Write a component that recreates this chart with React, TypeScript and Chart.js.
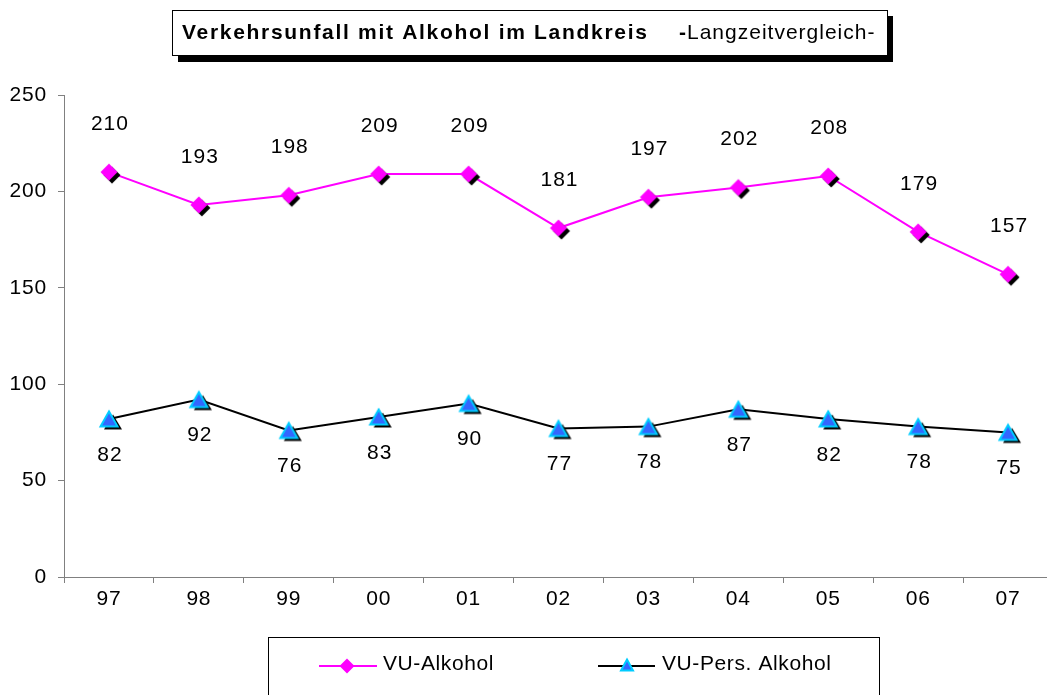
import React, { useEffect, useRef } from "react";
import { Chart, registerables } from "chart.js";

Chart.register(...registerables);

const YEARS = ["97", "98", "99", "00", "01", "02", "03", "04", "05", "06", "07"];
const VU_ALKOHOL = [210, 193, 198, 209, 209, 181, 197, 202, 208, 179, 157];
const VU_PERS_ALKOHOL = [82, 92, 76, 83, 90, 77, 78, 87, 82, 78, 75];
const Y_TICKS = [0, 50, 100, 150, 200, 250];
const TITLE_BOLD = "Verkehrsunfall mit Alkohol im Landkreis";
const TITLE_NORMAL = "-Langzeitvergleich-";
const SERIES_NAMES = ["VU-Alkohol", "VU-Pers. Alkohol"];

const FONT = '"Liberation Sans", Arial, sans-serif';
const PINK = "#FF00FF";
const BLUE = "#3366FF";
const CYAN = "#00CCFF";
const AXIS = "#808080";

function diamondPath(ctx: CanvasRenderingContext2D, cx: number, cy: number, r: number) {
  ctx.beginPath();
  ctx.moveTo(cx, cy - r);
  ctx.lineTo(cx + r, cy);
  ctx.lineTo(cx, cy + r);
  ctx.lineTo(cx - r, cy);
  ctx.closePath();
}

function trianglePath(ctx: CanvasRenderingContext2D, cx: number, cy: number, w: number, h: number) {
  ctx.beginPath();
  ctx.moveTo(cx, cy - h / 2);
  ctx.lineTo(cx + w / 2, cy + h / 2);
  ctx.lineTo(cx - w / 2, cy + h / 2);
  ctx.closePath();
}

function drawDiamond(ctx: CanvasRenderingContext2D, cx: number, cy: number, r: number) {
  diamondPath(ctx, cx, cy, r);
  ctx.fillStyle = PINK;
  ctx.fill();
}

function drawTriangle(ctx: CanvasRenderingContext2D, cx: number, cy: number, w: number, h: number) {
  trianglePath(ctx, cx, cy, w, h);
  ctx.fillStyle = BLUE;
  ctx.fill();
  ctx.lineWidth = 2;
  ctx.lineJoin = "miter";
  ctx.strokeStyle = CYAN;
  ctx.stroke();
}

function makeDiamondImage() {
  const c = document.createElement("canvas");
  c.width = 30;
  c.height = 30;
  const ctx = c.getContext("2d")!;
  diamondPath(ctx, 18, 18, 8.5);
  ctx.fillStyle = "#000";
  ctx.fill();
  drawDiamond(ctx, 15, 15, 8.5);
  return c;
}

function makeTriangleImage() {
  const c = document.createElement("canvas");
  c.width = 32;
  c.height = 32;
  const ctx = c.getContext("2d")!;
  trianglePath(ctx, 20, 19, 18, 15);
  ctx.fillStyle = "#000";
  ctx.fill();
  drawTriangle(ctx, 16, 16, 17, 15);
  return c;
}

const decorPlugin = {
  id: "decor",
  beforeDraw(chart: any) {
    chart.ctx.letterSpacing = "0.8px";
  },
  afterDatasetsDraw(chart: any) {
    const ctx: CanvasRenderingContext2D = chart.ctx;
    ctx.save();
    ctx.letterSpacing = "1px";
    ctx.font = `21px ${FONT}`;
    ctx.fillStyle = "#000";
    ctx.textAlign = "center";
    ctx.textBaseline = "middle";
    const offsets = [-48, 36];
    chart.data.datasets.forEach((ds: any, di: number) => {
      const meta = chart.getDatasetMeta(di);
      meta.data.forEach((pt: any, i: number) => {
        ctx.fillText(String(ds.data[i]), pt.x + 1, pt.y + offsets[di]);
      });
    });
    ctx.restore();
  },
  afterDraw(chart: any) {
    const ctx: CanvasRenderingContext2D = chart.ctx;
    ctx.save();
    ctx.letterSpacing = "0px";
    // Title box with shadow
    ctx.fillStyle = "#000";
    ctx.fillRect(178, 16, 715, 46);
    ctx.fillStyle = "#fff";
    ctx.fillRect(172, 10, 715, 45);
    ctx.strokeStyle = "#000";
    ctx.lineWidth = 1;
    ctx.strokeRect(172.5, 10.5, 715, 45);
    ctx.fillStyle = "#000";
    ctx.textAlign = "left";
    ctx.textBaseline = "alphabetic";
    ctx.letterSpacing = "1.7px";
    ctx.font = `bold 21px ${FONT}`;
    ctx.fillText(TITLE_BOLD, 182, 39);
    ctx.letterSpacing = "1px";
    ctx.font = `bold 21px ${FONT}`;
    ctx.fillText("-", 679, 39);
    ctx.font = `21px ${FONT}`;
    ctx.fillText(TITLE_NORMAL.slice(1), 687, 39);

    // Legend box
    ctx.letterSpacing = "0px";
    ctx.fillStyle = "#fff";
    ctx.fillRect(268, 637, 611, 70);
    ctx.strokeStyle = "#000";
    ctx.lineWidth = 1;
    ctx.strokeRect(268.5, 637.5, 611, 70);
    const ly = 666;
    ctx.lineWidth = 2;
    ctx.strokeStyle = PINK;
    ctx.beginPath();
    ctx.moveTo(319, ly);
    ctx.lineTo(377, ly);
    ctx.stroke();
    drawDiamond(ctx, 347, ly, 7.5);
    ctx.strokeStyle = "#000";
    ctx.lineWidth = 2;
    ctx.beginPath();
    ctx.moveTo(598, ly);
    ctx.lineTo(655, ly);
    ctx.stroke();
    drawTriangle(ctx, 627, ly - 1, 12, 11);
    ctx.fillStyle = "#000";
    ctx.font = `21px ${FONT}`;
    ctx.letterSpacing = "0.6px";
    ctx.textBaseline = "middle";
    ctx.fillText(SERIES_NAMES[0], 383, ly - 2);
    ctx.fillText(SERIES_NAMES[1], 662, ly - 2);
    ctx.restore();
  },
};

export default function App() {
  const canvasRef = useRef<HTMLCanvasElement | null>(null);

  useEffect(() => {
    const canvas = canvasRef.current;
    if (!canvas) return;
    const chart = new Chart(canvas, {
      type: "line",
      data: {
        labels: YEARS,
        datasets: [
          {
            label: SERIES_NAMES[0],
            data: VU_ALKOHOL,
            borderColor: PINK,
            backgroundColor: PINK,
            borderWidth: 2,
            pointStyle: makeDiamondImage() as any,
            pointRadius: 9,
            tension: 0,
            fill: false,
          },
          {
            label: SERIES_NAMES[1],
            data: VU_PERS_ALKOHOL,
            borderColor: "#000",
            backgroundColor: BLUE,
            borderWidth: 2,
            pointStyle: makeTriangleImage() as any,
            pointRadius: 9,
            tension: 0,
            fill: false,
          },
        ],
      },
      options: {
        responsive: false,
        animation: false,
        devicePixelRatio: 1,
        layout: { padding: { left: 0, right: 17, top: 95, bottom: 78 } },
        plugins: {
          legend: { display: false },
          title: { display: false },
          tooltip: { enabled: false },
        },
        scales: {
          x: {
            type: "category",
            offset: true,
            grid: {
              display: true,
              drawOnChartArea: false,
              offset: true,
              tickLength: 6,
              color: AXIS,
              lineWidth: 1,
            },
            border: { color: AXIS, width: 1 },
            ticks: {
              color: "#000",
              font: { family: FONT, size: 21 },
              padding: 4,
              maxRotation: 0,
              autoSkip: false,
            },
            afterFit: (s: any) => {
              s.height = 40;
            },
          },
          y: {
            min: 0,
            max: 250,
            grid: {
              display: true,
              drawOnChartArea: false,
              tickLength: 6,
              color: AXIS,
              lineWidth: 1,
            },
            border: { color: AXIS, width: 1 },
            ticks: {
              color: "#000",
              font: { family: FONT, size: 21 },
              padding: 11,
            },
            afterBuildTicks: (s: any) => {
              s.ticks = Y_TICKS.map((v) => ({ value: v }));
            },
            afterFit: (s: any) => {
              s.width = 64;
            },
          },
        },
      } as any,
      plugins: [decorPlugin],
    });
    return () => chart.destroy();
  }, []);

  return (
    <div
      style={{
        position: "fixed",
        left: 0,
        top: 0,
        width: 1047,
        height: 695,
        overflow: "hidden",
        background: "#fff",
      }}
    >
      <canvas ref={canvasRef} width={1070} height={695} style={{ display: "block" }} />
    </div>
  );
}
